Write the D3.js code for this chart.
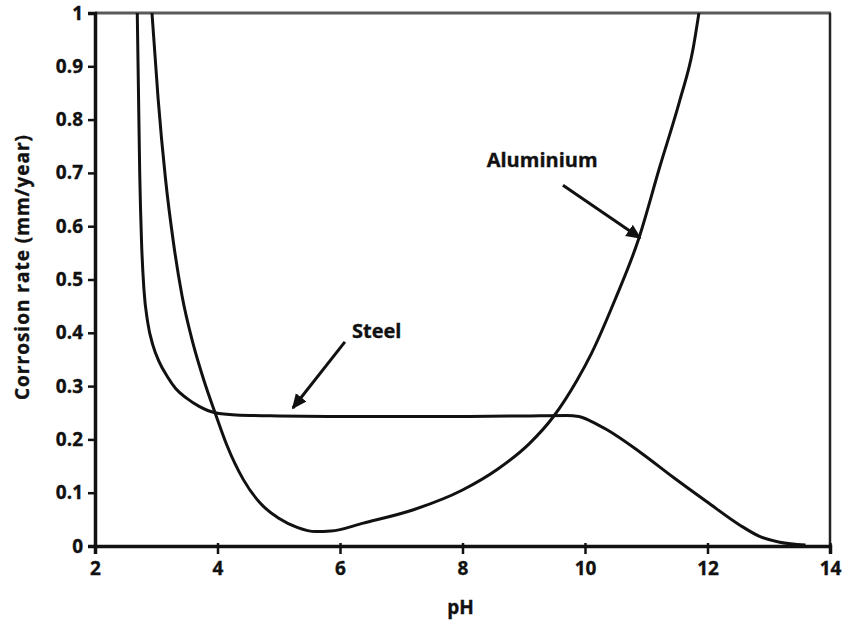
<!DOCTYPE html>
<html><head><meta charset="utf-8">
<script src="https://cdn.jsdelivr.net/npm/d3@7"></script>
<style>body{margin:0;background:#fff}text{font-family:"Open Sans",Lato,sans-serif;font-weight:700;fill:#111;stroke:#111;stroke-width:0.35px}</style>
</head><body><svg id="c" width="848" height="634"></svg>
<script>
const steelPH = [2.69, 2.71, 2.73, 2.76, 2.80, 2.86, 2.95, 3.05, 3.18, 3.32, 3.5, 3.7, 3.96, 4.3, 5.0, 6.0, 7.0, 8.0, 9.0, 9.7, 9.9, 10.1, 10.36, 10.9, 11.44, 11.99, 12.53, 12.85, 13.18, 13.6];
const steelRate = [1.0, 0.85, 0.7, 0.57, 0.48, 0.42, 0.375, 0.345, 0.318, 0.295, 0.277, 0.262, 0.25, 0.246, 0.244, 0.243, 0.243, 0.243, 0.244, 0.245, 0.243, 0.234, 0.218, 0.176, 0.129, 0.083, 0.039, 0.018, 0.007, 0.002];
const alPH = [2.93, 3.03, 3.15, 3.28, 3.42, 3.6, 3.78, 3.96, 4.15, 4.42, 4.7, 5.0, 5.3, 5.6, 5.85, 6.38, 7.2, 8.0, 8.56, 9.1, 9.48, 9.87, 10.1, 10.49, 10.87, 11.22, 11.55, 11.76, 11.86];
const alRate = [1.0, 0.84, 0.69, 0.57, 0.47, 0.38, 0.31, 0.25, 0.19, 0.125, 0.08, 0.052, 0.035, 0.027, 0.028, 0.043, 0.068, 0.105, 0.143, 0.193, 0.242, 0.311, 0.36, 0.462, 0.574, 0.711, 0.837, 0.93, 1.0];
const xTicks = [2, 4, 6, 8, 10, 12, 14];
const yTicks = [0, 0.1, 0.2, 0.3, 0.4, 0.5, 0.6, 0.7, 0.8, 0.9, 1];
const labels = [{t:"Steel", ph:6.6, v:0.39, fromPH:6.08, fromV:0.383, toPH:5.23, toV:0.259},
                {t:"Aluminium", ph:9.3, v:0.711, fromPH:9.64, fromV:0.677, toPH:10.9, toV:0.578}];

const svg = d3.select("#c");
const L=95, R=830, T=13, B=546;
const x = d3.scaleLinear().domain([2,14]).range([L,R]);
const y = d3.scaleLinear().domain([0,1]).range([B,T]);

const defs = svg.append("defs");
defs.append("clipPath").attr("id","cl").append("rect")
  .attr("x",L).attr("y",T).attr("width",R-L).attr("height",B-T);
const m = defs.append("marker").attr("id","ah").attr("viewBox","0 0 10 10")
  .attr("refX",9).attr("refY",5).attr("markerWidth",5).attr("markerHeight",5).attr("orient","auto")
  .attr("markerUnits","strokeWidth");
m.append("path").attr("d","M0,0.5 L10,5 L0,9.5 z").attr("fill","#111");

// frame
svg.append("line").attr("x1",L).attr("x2",R+1).attr("y1",T).attr("y2",T).attr("stroke","#5a5a5a").attr("stroke-width",3);
svg.append("line").attr("x1",R).attr("x2",R).attr("y1",T).attr("y2",B).attr("stroke","#222").attr("stroke-width",2.5);

const line = d3.line().x(d=>x(d[0])).y(d=>y(d[1])).curve(d3.curveMonotoneX);
const g = svg.append("g").attr("clip-path","url(#cl)");
g.append("path").datum(d3.zip(steelPH, steelRate)).attr("d",line).attr("fill","none").attr("stroke","#111").attr("stroke-width",3);
g.append("path").datum(d3.zip(alPH, alRate)).attr("d",line).attr("fill","none").attr("stroke","#111").attr("stroke-width",3);

const xa = svg.append("g").attr("transform",`translate(0,${B})`)
  .call(d3.axisBottom(x).tickValues(xTicks).tickFormat(d3.format("d")).tickSize(8).tickPadding(8));
const ya = svg.append("g").attr("transform",`translate(${L},0)`)
  .call(d3.axisLeft(y).tickValues(yTicks).tickFormat(d=>d===0||d===1?String(d):d3.format(".1f")(d)).tickSize(7).tickPadding(5));
[xa,ya].forEach(a=>{
  a.select(".domain").attr("stroke","#111").attr("stroke-width",3.5);
  a.selectAll(".tick line").attr("stroke","#111").attr("stroke-width",2.5);
  a.selectAll(".tick text").style("font-size","19px").attr("fill","#111");
});
xa.selectAll(".tick line").attr("y1",-3);

svg.append("text").attr("x",(L+R)/2-2).attr("y",614).attr("text-anchor","middle").style("font-size","19px").text("pH");
svg.append("text").attr("transform",`translate(29,267) rotate(-90)`).attr("text-anchor","middle")
  .style("font-size","19px").style("letter-spacing","1px").text("Corrosion rate (mm/year)");

labels.forEach(l=>{
  svg.append("text").attr("x",x(l.ph)).attr("y",y(l.v)).attr("text-anchor","middle").style("font-size","20px").text(l.t);
  svg.append("line").attr("x1",x(l.fromPH)).attr("y1",y(l.fromV)).attr("x2",x(l.toPH)).attr("y2",y(l.toV))
    .attr("stroke","#111").attr("stroke-width",3).attr("marker-end","url(#ah)");
});
</script></body></html>
